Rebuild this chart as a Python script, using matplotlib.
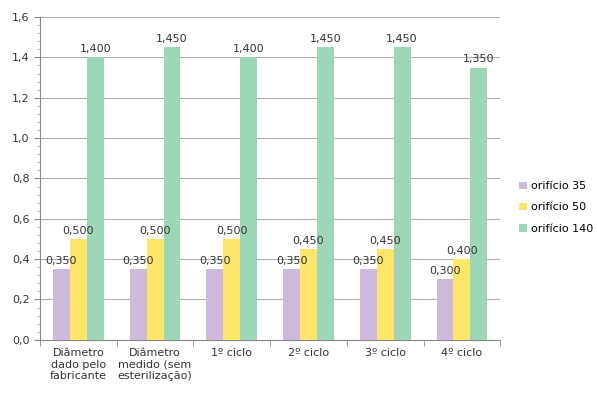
import matplotlib.pyplot as plt
import numpy as np
from matplotlib.ticker import MultipleLocator

categories = ["Diâmetro\ndado pelo\nfabricante", "Diâmetro\nmedido (sem\nesterilização)",
              "1º ciclo", "2º ciclo", "3º ciclo", "4º ciclo"]
series_names = ["orifício 35", "orifício 50", "orifício 140"]
orificio_35 = [0.350, 0.350, 0.350, 0.350, 0.350, 0.300]
orificio_50 = [0.500, 0.500, 0.500, 0.450, 0.450, 0.400]
orificio_140 = [1.400, 1.450, 1.400, 1.450, 1.450, 1.350]
colors = ["#cdb9dc", "#fde56a", "#9dd6b6"]

fig = plt.figure(figsize=(5.97, 3.97), dpi=100)
ax = fig.add_axes([0.067, 0.144, 0.771, 0.813])

x = np.arange(len(categories))
w = 0.22
for i, (vals, name, c) in enumerate(zip([orificio_35, orificio_50, orificio_140], series_names, colors)):
    pos = x + (i - 1) * w
    ax.bar(pos, vals, width=w, color=c, label=name, zorder=3)
    for px, v in zip(pos, vals):
        ax.text(px, v + 0.015, f"{v:.3f}".replace(".", ","), ha="center", va="bottom",
                fontsize=8, color="#333333", zorder=4)

ax.set_ylim(0, 1.6)
ax.set_xlim(-0.5, len(categories) - 0.5)
ax.yaxis.set_major_locator(MultipleLocator(0.2))
ax.yaxis.set_minor_locator(MultipleLocator(0.04))
ax.set_yticklabels([f"{t:.1f}".replace(".", ",") for t in ax.get_yticks()])
ax.set_xticks(x)
ax.set_xticklabels(categories, fontsize=8, color="#333333")
ax.set_xticks(np.arange(len(categories) + 1) - 0.5, minor=True)
ax.tick_params(axis="x", which="major", length=0, pad=6)
ax.tick_params(axis="x", which="minor", length=4, color="#888888")
ax.tick_params(axis="y", which="major", labelsize=8, labelcolor="#333333", length=4, color="#888888")
ax.tick_params(axis="y", which="minor", length=2, color="#aaaaaa")

ax.grid(axis="y", color="#b0b0b0", linewidth=0.8, zorder=0)
for s in ["top", "right"]:
    ax.spines[s].set_visible(False)
for s in ["left", "bottom"]:
    ax.spines[s].set_color("#888888")

ax.legend(loc="center left", bbox_to_anchor=(1.02, 0.41), frameon=False, fontsize=8,
          handlelength=0.7, handleheight=0.7, handletextpad=0.3, labelspacing=1.0)

plt.savefig("out.png")
